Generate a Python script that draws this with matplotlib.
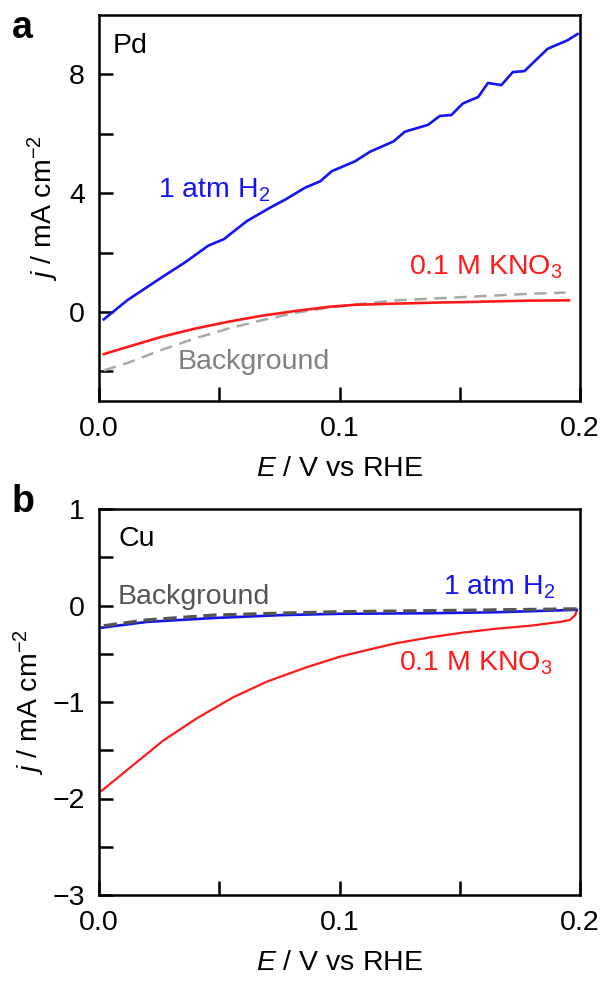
import matplotlib
matplotlib.use("Agg")
import matplotlib.pyplot as plt

plt.rcParams['font.family'] = ['Liberation Sans', 'DejaVu Sans']
plt.rcParams['mathtext.fontset'] = 'custom'
plt.rcParams['mathtext.rm'] = 'Liberation Sans'
plt.rcParams['mathtext.it'] = 'Liberation Sans:italic'
plt.rcParams['mathtext.bf'] = 'Liberation Sans:bold'

# ---- Panel a (Pd) ----
a_h2_E = [0.002, 0.0117, 0.0262, 0.0358, 0.0454, 0.0519, 0.0615, 0.0711, 0.0776, 0.0856,
          0.0920, 0.0968, 0.1064, 0.1128, 0.1224, 0.1272, 0.1368, 0.1417, 0.1465, 0.1513,
          0.1577, 0.1617, 0.1673, 0.1721, 0.1769, 0.1865, 0.1946, 0.1990]
a_h2_j = [-0.25, 0.39, 1.17, 1.67, 2.23, 2.45, 3.06, 3.51, 3.79, 4.18,
          4.40, 4.74, 5.07, 5.40, 5.74, 6.07, 6.30, 6.60, 6.63, 7.02,
          7.24, 7.71, 7.64, 8.08, 8.11, 8.86, 9.14, 9.36]
a_no3_E = [0.002, 0.0122, 0.026, 0.040, 0.0538, 0.0676, 0.0815, 0.0953, 0.1064, 0.1237,
           0.143, 0.1515, 0.1673, 0.179, 0.1954]
a_no3_j = [-1.42, -1.17, -0.84, -0.56, -0.33, -0.13, 0.03, 0.17, 0.24, 0.28,
           0.32, 0.33, 0.36, 0.38, 0.39]
a_bg_E = [0.002, 0.0122, 0.026, 0.040, 0.0538, 0.0676, 0.0815, 0.0953, 0.1064, 0.1237,
          0.1515, 0.179, 0.194]
a_bg_j = [-1.97, -1.71, -1.28, -0.89, -0.56, -0.28, -0.03, 0.14, 0.25, 0.39,
          0.50, 0.61, 0.65]

# ---- Panel b (Cu) ----
b_h2_E = [0.0011, 0.0198, 0.0475, 0.0753, 0.100, 0.1376, 0.165, 0.1986]
b_h2_j = [-0.23, -0.17, -0.13, -0.10, -0.086, -0.08, -0.07, -0.045]
b_bg_E = [0.002, 0.0198, 0.0475, 0.0753, 0.100, 0.1515, 0.1986]
b_bg_j = [-0.21, -0.15, -0.10, -0.08, -0.065, -0.05, -0.035]
b_no3_E = [0.0011, 0.0129, 0.0267, 0.0406, 0.0559, 0.0697, 0.0863, 0.1002, 0.110, 0.1238,
           0.1376, 0.1515, 0.1654, 0.1792, 0.1917, 0.1958, 0.198, 0.1986]
b_no3_j = [-1.92, -1.68, -1.40, -1.17, -0.95, -0.79, -0.64, -0.53, -0.47, -0.39,
           -0.33, -0.28, -0.24, -0.21, -0.17, -0.15, -0.10, -0.06]

x_ticks = [0.0, 0.05, 0.1, 0.15, 0.2]
x_ticklabels = ['0.0', '', '0.1', '', '0.2']
a_yticks = [-2, 0, 2, 4, 6, 8]
a_yticklabels = ['', '0', '', '4', '', '8']
b_yticks = [-3, -2.5, -2, -1.5, -1, -0.5, 0, 0.5, 1]
b_yticklabels = ['\u22123', '', '\u22122', '', '\u22121', '', '0', '', '1']

BLUE = '#1414f0'
RED = '#ff1a1a'
FS = 20.5

fig = plt.figure(figsize=(6.03, 9.81), dpi=100)
W, H = 603, 981
axa = fig.add_axes([99 / W, (H - 401) / H, 481 / W, 386 / H])
axb = fig.add_axes([99 / W, (H - 895) / H, 481 / W, 386 / H])

for ax in (axa, axb):
    ax.set_xlim(0, 0.2)
    ax.set_xticks(x_ticks)
    ax.set_xticklabels(x_ticklabels)
    ax.tick_params(direction='in', length=10, width=1.8, labelsize=FS,
                   top=False, right=False)
    ax.tick_params(axis='x', pad=11)
    ax.tick_params(axis='y', pad=10)
    for s in ax.spines.values():
        s.set_linewidth(1.8)
    ax.set_xlabel(r'$E$ / V vs RHE', fontsize=FS, labelpad=10)

# Panel a
axa.set_ylim(-3, 10)
axa.set_yticks(a_yticks)
axa.set_yticklabels(a_yticklabels)
axa.plot(a_bg_E, a_bg_j, color='#a8a8a8', lw=1.8, dashes=(5, 3))
axa.plot(a_no3_E, a_no3_j, color=RED, lw=1.9)
axa.plot(a_h2_E, a_h2_j, color=BLUE, lw=1.9)
axa.text(0.029, 0.953, 'Pd', transform=axa.transAxes, fontsize=FS, ha='left', va='top')
axa.text(0.0245, 3.86, r'1 atm H$_2$', color=BLUE, fontsize=FS, ha='left', va='baseline')
axa.text(0.129, 1.25, r'0.1 M KNO$_3$', color=RED, fontsize=FS, ha='left', va='baseline')
axa.text(0.0328, -1.93, 'Background', color='#808080', fontsize=FS, ha='left', va='baseline')
axa.set_ylabel(r'$j$ / mA cm$^{-2}$', fontsize=FS, labelpad=6)

# Panel b
axb.set_ylim(-3, 1)
axb.set_yticks(b_yticks)
axb.set_yticklabels(b_yticklabels)
axb.plot(b_no3_E, b_no3_j, color=RED, lw=1.6)
axb.plot(b_h2_E, b_h2_j, color=BLUE, lw=1.9)
axb.plot(b_bg_E, b_bg_j, color='#555555', lw=2.4, dashes=(4, 2))
axb.text(0.04, 0.955, 'Cu', transform=axb.transAxes, fontsize=FS, ha='left', va='top')
axb.text(0.0079, 0.02, 'Background', color='#555555', fontsize=FS, ha='left', va='baseline')
axb.text(0.143, 0.11, r'1 atm H$_2$', color=BLUE, fontsize=FS, ha='left', va='baseline')
axb.text(0.1247, -0.67, r'0.1 M KNO$_3$', color=RED, fontsize=FS, ha='left', va='baseline')
axb.set_ylabel(r'$j$ / mA cm$^{-2}$', fontsize=FS, labelpad=4)

fig.text(12 / W, 1 - 38 / H, 'a', fontsize=27, fontweight='bold', ha='left', va='baseline')
fig.text(12 / W, 1 - 512 / H, 'b', fontsize=27, fontweight='bold', ha='left', va='baseline')

fig.savefig('out.png', dpi=100)
